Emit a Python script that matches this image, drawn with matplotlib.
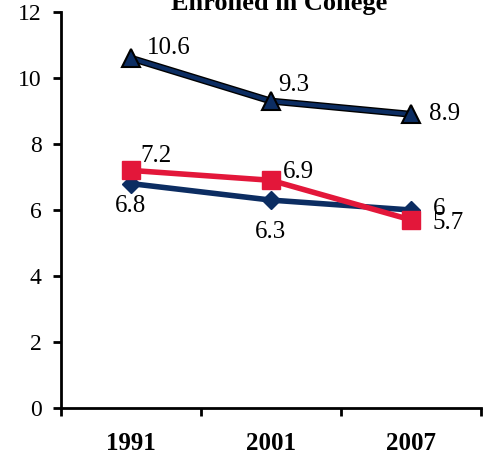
import matplotlib
matplotlib.use("Agg")
import matplotlib.pyplot as plt

years = ["1991", "2001", "2007"]
triangle_vals = [10.6, 9.3, 8.9]
diamond_vals = [6.8, 6.3, 6.0]
square_vals = [7.2, 6.9, 5.7]
triangle_labels = ["10.6", "9.3", "8.9"]
diamond_labels = ["6.8", "6.3", "6"]
square_labels = ["7.2", "6.9", "5.7"]

NAVY = "#0c2d62"
RED = "#e3173a"

plt.rcParams["font.family"] = ["Liberation Serif", "DejaVu Serif"]

fig = plt.figure(figsize=(4.92, 4.57), dpi=100)
ax = fig.add_axes([61 / 492, 1 - 408 / 457, 420 / 492, 396 / 457])

x = list(range(len(years)))
ax.plot(x, triangle_vals, color="black", lw=5, zorder=2)
ax.plot(x, triangle_vals, color=NAVY, lw=3, marker="^", markersize=13,
        markerfacecolor=NAVY, markeredgecolor="black", markeredgewidth=1.5, zorder=3)
ax.plot(x, diamond_vals, color=NAVY, lw=4, marker="D", markersize=9,
        markerfacecolor=NAVY, markeredgecolor=NAVY, zorder=3)
ax.plot(x, square_vals, color=RED, lw=4, marker="s", markersize=13,
        markerfacecolor=RED, markeredgecolor=RED, zorder=4)

# value labels (offsets in pixels)
LABEL_SIZE = 18
tri_off = [(16, 10), (7, 16), (18, 0)]
dia_off = [(0, -22), (0, -32), (22, 1)]
sq_off = [(9, 14), (12, 8), (22, -3)]
for xi, v, lab, off in zip(x, triangle_vals, triangle_labels, tri_off):
    ax.annotate(lab, (xi, v), xytext=off, textcoords="offset pixels",
                ha="left" if off[0] > 5 else "center", va="center",
                fontsize=LABEL_SIZE)
for xi, v, lab, off in zip(x, diamond_vals, diamond_labels, dia_off):
    ax.annotate(lab, (xi, v), xytext=off, textcoords="offset pixels",
                ha="left" if off[0] > 5 else "center", va="center",
                fontsize=LABEL_SIZE)
for xi, v, lab, off in zip(x, square_vals, square_labels, sq_off):
    ax.annotate(lab, (xi, v), xytext=off, textcoords="offset pixels",
                ha="left", va="center", fontsize=LABEL_SIZE)

ax.set_xlim(-0.5, 2.5)
ax.set_ylim(0, 12)
ax.set_yticks(range(0, 13, 2))
ax.set_xticks(x)
ax.set_xticklabels(years, fontweight="bold", fontsize=18)
ax.set_xticks([-0.5, 0.5, 1.5, 2.5], minor=True)
ax.tick_params(axis="x", which="major", length=0, pad=17)
ax.tick_params(axis="x", which="minor", length=6, width=2, direction="out")
ax.tick_params(axis="y", length=6, width=2, direction="out", labelsize=17, pad=8)

for side in ["top", "right"]:
    ax.spines[side].set_visible(False)
for side in ["left", "bottom"]:
    ax.spines[side].set_linewidth(2)

# title sits partly above the top edge, as in the source image
fig.text(279 / 492, 1 - 10 / 457, "Enrolled in College", ha="center",
         va="baseline", fontsize=19, fontweight="bold")

fig.savefig("out.png", dpi=100)
